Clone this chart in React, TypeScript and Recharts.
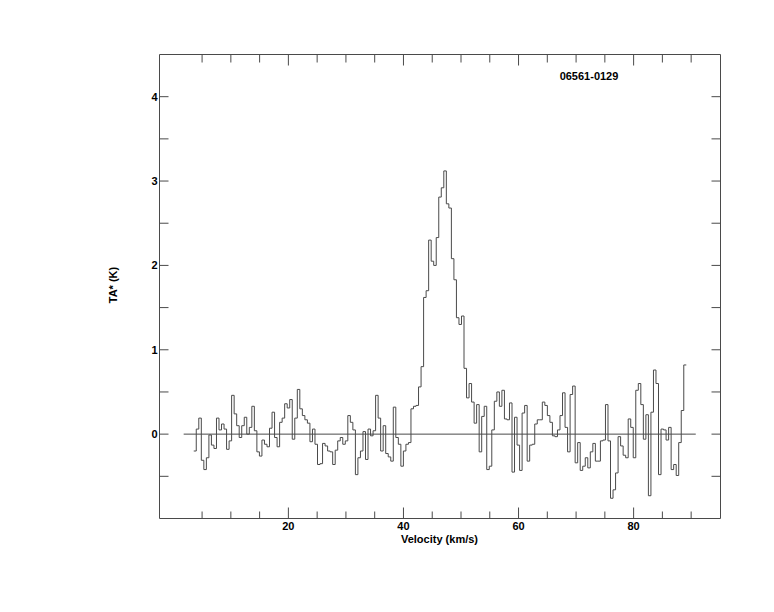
import React from 'react';
import { LineChart, Line, XAxis, YAxis, ReferenceLine } from 'recharts';

// ---- text ----
const SOURCE_NAME = '06561-0129';
const X_TITLE = 'Velocity (km/s)';
const Y_TITLE = 'TA* (K)';

// ---- velocity grid of the spectrum (left edge of first channel, channel width, km/s) ----
const FIRST_CHANNEL_EDGE = 3.55;
const CHANNEL_WIDTH = 0.439;

// ---- antenna temperature per channel (K) ----
const TA_3_TO_16 = [
  -0.2, 0.06, 0.19, -0.31, -0.42, -0.28, -0.01, -0.13, -0.17, 0.19, 0.05, 0.12, 0.06, -0.18,
  -0.08, 0.46, 0.24, 0.1, -0.04, 0.1, 0.2, 0.0, 0.08, 0.33, 0.04, -0.21, -0.26, -0.07,
];
const TA_16_TO_24 = [
  -0.12, -0.15, 0.07, 0.26, -0.04, -0.15, 0.14, 0.19, 0.36, 0.31, 0.41, -0.06, 0.19, 0.53,
  0.3, 0.22, 0.17, 0.13, -0.09, 0.06,
];
const TA_24_TO_43 = [
  -0.12, -0.36, -0.35, -0.11, -0.14, -0.2, -0.21, -0.36, -0.19, -0.08, -0.04, -0.12, -0.08,
  0.22, 0.14, 0.05, -0.48, -0.28, -0.2, 0.03, -0.3, 0.06, -0.02, 0.04, 0.46, 0.19, -0.2, 0.1,
  -0.23, -0.27, -0.32, 0.32, -0.04, -0.12, -0.38, -0.2, -0.12, -0.1, 0.3, 0.33, 0.34, 0.56, 0.8,
];
const TA_LINE = [
  1.62, 1.7, 2.3, 2.05, 2.0, 2.33, 2.81, 2.92, 3.12, 2.73, 2.68, 2.08, 1.83, 1.38, 1.3, 1.4, 0.78,
];
const TA_51_TO_71 = [
  0.43, 0.6, 0.38, 0.13, 0.35, -0.21, 0.21, 0.33, -0.42, -0.38, 0.05, 0.39, 0.5, 0.33, 0.52,
  0.18, 0.17, 0.37, -0.45, 0.2, -0.13, -0.43, 0.25, 0.34, -0.32, -0.13, -0.12, 0.12, 0.17, 0.17,
  0.38, 0.34, 0.22, 0.14, -0.02, -0.03, 0.05, 0.22, 0.49, 0.08, -0.21, 0.47, 0.57, -0.34, -0.1,
];
const TA_71_TO_89 = [
  -0.43, -0.38, -0.28, -0.4, -0.21, -0.11, -0.32, -0.32, -0.08, -0.07, 0.35, -0.08, -0.76,
  -0.66, -0.46, -0.03, -0.14, -0.25, -0.28, 0.18, 0.08, -0.28, 0.52, 0.6, 0.35, -0.06, 0.23,
  -0.73, 0.26, 0.76, 0.6, -0.48, 0.06, 0.05, -0.07, 0.08, -0.42, -0.36, -0.49, -0.1, 0.28, 0.82,
];

// ---- axes ----
const X_DOMAIN = [-2.4, 95.1];
const Y_DOMAIN = [-1, 4.5];
const X_TICKS = [5, 10, 15, 20, 25, 30, 35, 40, 45, 50, 55, 60, 65, 70, 75, 80, 85, 90];
const X_LABELED_TICKS = [20, 40, 60, 80];
const Y_TICKS = [-0.5, 0, 0.5, 1, 1.5, 2, 2.5, 3, 3.5, 4];
const Y_LABELED_TICKS = [0, 1, 2, 3, 4];
const BASELINE_SPAN = [1.8, 90.8];

const TA = [...TA_3_TO_16, ...TA_16_TO_24, ...TA_24_TO_43, ...TA_LINE, ...TA_51_TO_71, ...TA_71_TO_89];
const spectrum = TA.map((t, i) => ({ v: FIRST_CHANNEL_EDGE + i * CHANNEL_WIDTH, t }));
// closing edge of the last channel (same value as the last channel)
spectrum.push({ v: FIRST_CHANNEL_EDGE + TA.length * CHANNEL_WIDTH, t: TA[TA.length - 1] });

const INK = '#4a4a4a';
const FONT = '"Liberation Sans", Arial, Helvetica, sans-serif';

const BottomTick = (props: any) => {
  const { x, y, payload } = props;
  const major = X_LABELED_TICKS.includes(payload.value);
  return (
    <g>
      <line x1={x} x2={x} y1={y} y2={y - (major ? 11 : 7)} stroke={INK} strokeWidth={1} />
      {major && (
        <text x={x} y={y + 11} textAnchor="middle" fontSize={11} fontWeight="bold" fill="#000" fontFamily={FONT}>
          {payload.value}
        </text>
      )}
    </g>
  );
};

const TopTick = (props: any) => {
  const { x, y, payload } = props;
  const major = X_LABELED_TICKS.includes(payload.value);
  return <line x1={x} x2={x} y1={y} y2={y + (major ? 11 : 8)} stroke={INK} strokeWidth={1} />;
};

const LeftTick = (props: any) => {
  const { x, y, payload } = props;
  const labeled = Y_LABELED_TICKS.includes(payload.value);
  return (
    <g>
      <line x1={x} x2={x + 9} y1={y} y2={y} stroke={INK} strokeWidth={1} />
      {labeled && (
        <text x={x - 2} y={y + 4} textAnchor="end" fontSize={11} fontWeight="bold" fill="#000" fontFamily={FONT}>
          {payload.value}
        </text>
      )}
    </g>
  );
};

const RightTick = (props: any) => {
  const { x, y } = props;
  return <line x1={x} x2={x - 9} y1={y} y2={y} stroke={INK} strokeWidth={1} />;
};

export default function App() {
  return (
    <div style={{ position: 'absolute', left: 0, top: 0, width: 774, height: 612, background: '#fff' }}>
      <LineChart width={774} height={612} data={spectrum} margin={{ top: 0, right: 0, bottom: 0, left: 0 }}>
        <XAxis
          xAxisId="bottom"
          dataKey="v"
          type="number"
          orientation="bottom"
          domain={X_DOMAIN}
          allowDataOverflow
          ticks={X_TICKS}
          interval={0}
          height={93.5}
          tickSize={0}
          tickMargin={0}
          tickLine={false}
          axisLine={{ stroke: INK, strokeWidth: 1 }}
          tick={<BottomTick />}
        />
        <XAxis
          xAxisId="top"
          dataKey="v"
          type="number"
          orientation="top"
          domain={X_DOMAIN}
          allowDataOverflow
          ticks={X_TICKS}
          interval={0}
          height={54.5}
          tickSize={0}
          tickMargin={0}
          tickLine={false}
          axisLine={{ stroke: INK, strokeWidth: 1 }}
          tick={<TopTick />}
        />
        <YAxis
          yAxisId="left"
          dataKey="t"
          type="number"
          orientation="left"
          domain={Y_DOMAIN}
          allowDataOverflow
          ticks={Y_TICKS}
          interval={0}
          width={159.5}
          tickSize={0}
          tickMargin={0}
          tickLine={false}
          axisLine={{ stroke: INK, strokeWidth: 1 }}
          tick={<LeftTick />}
        />
        <YAxis
          yAxisId="right"
          dataKey="t"
          type="number"
          orientation="right"
          domain={Y_DOMAIN}
          allowDataOverflow
          ticks={Y_TICKS}
          interval={0}
          width={53.5}
          tickSize={0}
          tickMargin={0}
          tickLine={false}
          axisLine={{ stroke: INK, strokeWidth: 1 }}
          tick={<RightTick />}
        />
        <ReferenceLine
          xAxisId="bottom"
          yAxisId="left"
          segment={[
            { x: BASELINE_SPAN[0], y: 0 },
            { x: BASELINE_SPAN[1], y: 0 },
          ]}
          stroke={INK}
          strokeWidth={1}
          ifOverflow="visible"
        />
        <Line
          xAxisId="bottom"
          yAxisId="left"
          type="stepAfter"
          dataKey="t"
          stroke={INK}
          strokeWidth={1}
          dot={false}
          activeDot={false}
          isAnimationActive={false}
        />
      </LineChart>
      <svg
        width={774}
        height={612}
        style={{ position: 'absolute', left: 0, top: 0, pointerEvents: 'none' }}
      >
        <text x={589} y={80} textAnchor="middle" fontSize={11} fontWeight="bold" fill="#000" fontFamily={FONT}>
          {SOURCE_NAME}
        </text>
        <text x={439.5} y={542.5} textAnchor="middle" fontSize={11} fontWeight="bold" fill="#000" fontFamily={FONT}>
          {X_TITLE}
        </text>
        <text
          x={116.5}
          y={285}
          transform="rotate(-90 116.5 285)"
          textAnchor="middle"
          fontSize={11}
          fontWeight="bold"
          fill="#000"
          fontFamily={FONT}
        >
          {Y_TITLE}
        </text>
      </svg>
    </div>
  );
}
